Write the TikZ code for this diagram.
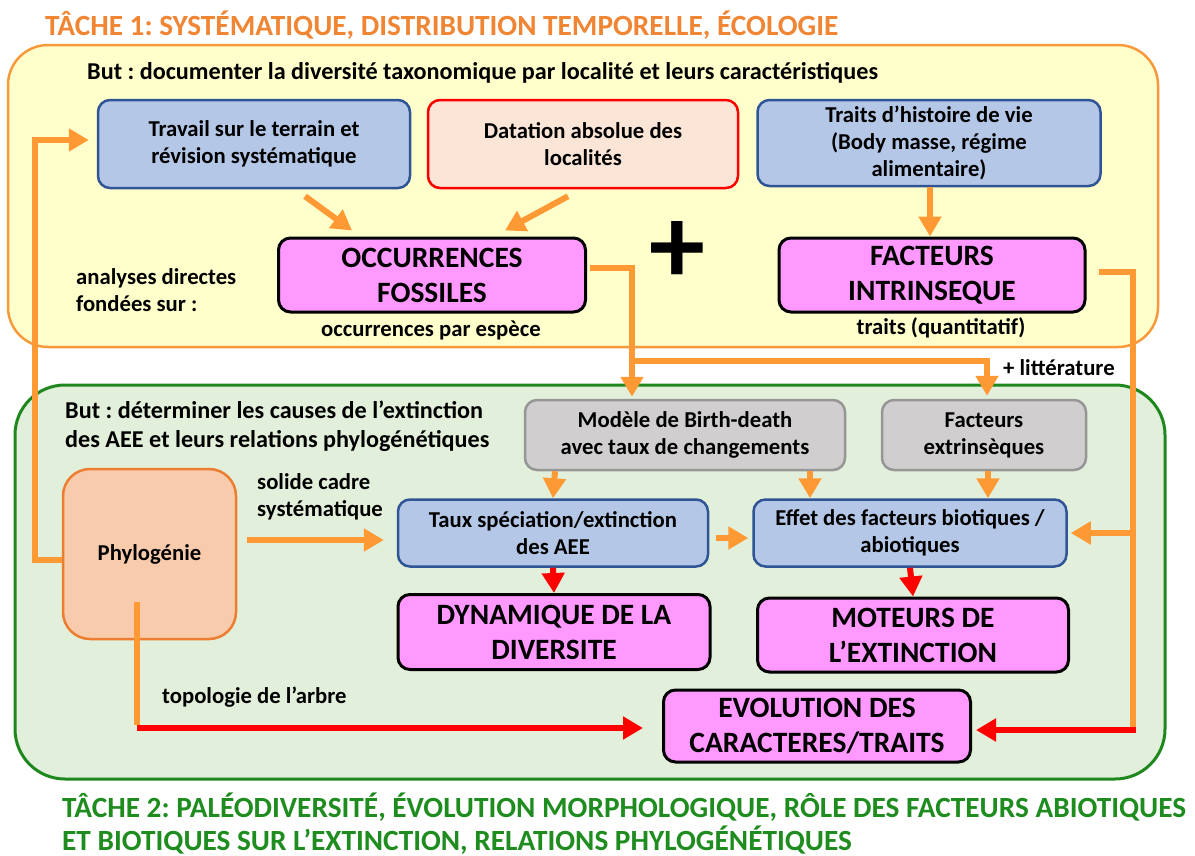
\documentclass[tikz,border=0pt]{standalone}
\usepackage{fontspec}
\setmainfont{Carlito}
\usetikzlibrary{arrows.meta}
\frenchspacing

\definecolor{tachorange}{RGB}{240,133,52}
\definecolor{arrorange}{RGB}{255,153,51}
\definecolor{yelfill}{RGB}{255,255,204}
\definecolor{yelline}{RGB}{248,154,60}
\definecolor{grnfill}{RGB}{226,239,218}
\definecolor{grnline}{RGB}{30,135,30}
\definecolor{tachgreen}{RGB}{30,140,30}
\definecolor{bluefill}{RGB}{180,199,231}
\definecolor{blueline}{RGB}{47,85,151}
\definecolor{peachfill}{RGB}{251,229,214}
\definecolor{magfill}{RGB}{255,153,255}
\definecolor{grayfill}{RGB}{208,206,206}
\definecolor{grayline}{RGB}{150,150,150}
\definecolor{phylofill}{RGB}{248,203,173}
\definecolor{phyloline}{RGB}{237,125,49}

\tikzset{
  txt/.style={font=\fontsize{22.7}{27}\selectfont\bfseries, inner sep=0pt},
  buttxt/.style={font=\fontsize{24.2}{29}\selectfont\bfseries, inner sep=0pt},
  bigtxt/.style={font=\fontsize{29.5}{35}\selectfont\bfseries, inner sep=0pt},
  tachetxt/.style={font=\fontsize{29.3}{33}\selectfont\bfseries, inner sep=0pt},
  box/.style={draw, line width=2.5pt, rounded corners=12pt, align=center, inner sep=0pt, txt},
  bluebox/.style={box, fill=bluefill, draw=blueline},
  redbox/.style={box, fill=peachfill, draw=red},
  graybox/.style={box, fill=grayfill, draw=grayline},
  magbox/.style={box, fill=magfill, draw=black, line width=3pt, bigtxt},
  oline/.style={draw=arrorange, line width=6pt},
  oarr/.style={oline, -{Triangle[width=22pt,length=20pt]}},
  rline/.style={draw=red, line width=6pt},
  rarr/.style={rline, -{Triangle[width=22pt,length=20pt]}},
}

\begin{document}
\begin{tikzpicture}[x=1pt,y=-1pt]
\useasboundingbox (0,0) rectangle (1195,855);

\draw[yelline, fill=yelfill, line width=2.5pt, rounded corners=40pt] (8,45) rectangle (1158,347);
\draw[grnline, fill=grnfill, line width=3pt, rounded corners=50pt] (15,385) rectangle (1165,779);

\node[tachetxt, text=tachorange, anchor=base west] (tache1) at (45,35) {TÂCHE 1: SYSTÉMATIQUE, DISTRIBUTION TEMPORELLE, ÉCOLOGIE};
\node[tachetxt, text=tachgreen, anchor=base west, align=left] (tache2) at (62,850) {TÂCHE 2: PALÉODIVERSITÉ, ÉVOLUTION MORPHOLOGIQUE, RÔLE DES FACTEURS ABIOTIQUES\\ET BIOTIQUES SUR L’EXTINCTION, RELATIONS PHYLOGÉNÉTIQUES};

% tache 1
\node[buttxt, anchor=west] (but1) at (87,73) {But : documenter la diversité taxonomique par localité et leurs caractéristiques};
\node[bluebox, minimum width=312pt, minimum height=88pt] (terrain) at (254,144) {Travail sur le terrain et\\révision systématique};
\node[redbox, minimum width=310pt, minimum height=88pt] (datation) at (583,144) {Datation absolue des\\localités};
\node[bluebox, minimum width=343pt, minimum height=86pt] (histvie) at (929,143) {Traits d’histoire de vie\\(Body masse, régime\\alimentaire)};
\node[magbox, minimum width=307pt, minimum height=74pt] (occ) at (432,275) {OCCURRENCES\\FOSSILES};
\node[magbox, minimum width=306pt, minimum height=74pt] (intrins) at (932,275) {FACTEURS\\INTRINSEQUE};
\node[inner sep=0pt, font=\fontsize{112}{112}\selectfont\bfseries] (plus) at (677,252) {+};
\node[txt, anchor=west, align=left] (analyses) at (76,290) {analyses directes\\fondées sur :};
\node[txt] (occlab) at (431,330) {occurrences par espèce};
\node[txt] (intrlab) at (941,328) {traits (quantitatif)};

% tache 2
\node[buttxt, anchor=west, align=left] (but2) at (65,426) {But : déterminer les causes de l’extinction\\des AEE et leurs relations phylogénétiques};
\node[graybox, minimum width=320pt, minimum height=70pt] (birth) at (685,435) {Modèle de Birth-death\\avec taux de changements};
\node[graybox, minimum width=204pt, minimum height=70pt] (extrins) at (984,435) {Facteurs\\extrinsèques};
\node[box, fill=phylofill, draw=phyloline, rounded corners=27pt, minimum width=173pt, minimum height=170pt] (phylo) at (149.5,554) {Phylogénie};
\node[bluebox, minimum width=310pt, minimum height=67pt] (taux) at (553,533) {Taux spéciation/extinction\\des AEE};
\node[bluebox, minimum width=313pt, minimum height=67pt] (effet) at (910,533) {Effet des facteurs biotiques /\\abiotiques};
\node[magbox, minimum width=312pt, minimum height=75pt] (dyn) at (554,632) {DYNAMIQUE DE LA\\DIVERSITE};
\node[magbox, minimum width=311pt, minimum height=74pt] (moteurs) at (913,635) {MOTEURS DE\\L’EXTINCTION};
\node[magbox, minimum width=307pt, minimum height=72pt] (evol) at (817,726) {EVOLUTION DES\\CARACTERES/TRAITS};
\node[txt, anchor=west, align=left] (cadre) at (257,497) {solide cadre\\systématique};
\node[txt, anchor=west] (topo) at (162,697) {topologie de l’arbre};
\node[txt, anchor=west] (litt) at (1003,368) {+ littérature};

\coordinate (occfork) at (632,361);
\coordinate (intrdown) at (1133,730);
\coordinate (intrfork) at (1133,533);
\coordinate (phylodown) at (137,728);

\draw[oarr] ([xshift=51pt,yshift=-7pt]terrain.south) -- ([xshift=-80pt,yshift=6pt]occ.north);
\draw[oarr] ([xshift=-15pt,yshift=-7pt]datation.south) -- ([xshift=73pt,yshift=6pt]occ.north);
\draw[oarr] ([xshift=1pt]histvie.south) -- ([xshift=-2pt]intrins.north);
\draw[oarr] ([xshift=3pt,yshift=7pt]occ.east) -| ([xshift=-53pt,yshift=2pt]birth.north);
\draw[oarr] (occfork) -| ([xshift=3pt,yshift=3pt]extrins.north);
\draw[oline] ([xshift=12pt,yshift=3pt]intrins.east) -| (intrdown);
\draw[rarr] ([xshift=3pt]intrdown) -- ([xshift=4pt]intrdown -| evol.east);
\draw[oarr] (intrfork) -- ([xshift=3pt]effet.east);
\draw[oarr] ([yshift=-6pt]phylo.west) -- ++(-27,0) |- ([xshift=-8pt,yshift=4pt]terrain.west);
\draw[oarr] ([xshift=10pt,yshift=14pt]phylo.east) -- ([xshift=-13pt,yshift=14pt]phylo.east -| taux.west);
\draw[oline] ([xshift=-12.5pt,yshift=-48pt]phylo.center) -- ([yshift=3pt]phylodown);
\draw[rarr] (phylodown) -- ([xshift=-19pt]phylodown -| evol.west);
\draw[oarr] ([xshift=2pt]taux.north |- birth.south) -- (taux.north);
\draw[oarr] ([xshift=125pt]birth.south) -- ([xshift=125pt]birth.south |- effet.north);
\draw[oarr] ([xshift=4pt]extrins.south) -- ([xshift=4pt]extrins.south |- effet.north);
\draw[oarr] ([xshift=7pt,yshift=-5pt]taux.east) -- ([xshift=-4pt,yshift=-5pt]effet.west);
\draw[rarr] (taux.south) -- (dyn.north);
\draw[rarr] (effet.south) -- (moteurs.north);
\end{tikzpicture}
\end{document}
